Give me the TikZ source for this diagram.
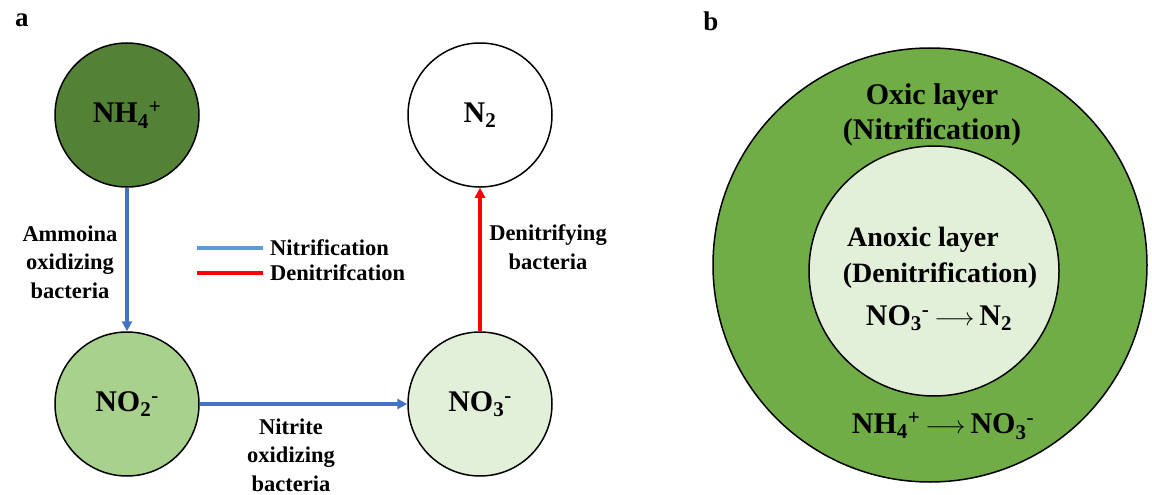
\documentclass[tikz,border=0pt]{standalone}
\usepackage{fontspec}
\setmainfont{Liberation Serif}
\usetikzlibrary{arrows.meta}
\definecolor{darkgreen}{HTML}{538135}
\definecolor{midgreen}{HTML}{A9D18E}
\definecolor{palegreen}{HTML}{E2F0D9}
\definecolor{oxic}{HTML}{70AD47}
\definecolor{arrowblue}{HTML}{4472C4}
\definecolor{legendblue}{HTML}{5B9BD5}
\definecolor{arrowred}{HTML}{FF0000}
\tikzset{
  species/.style={circle, draw=black, line width=1.5pt, minimum size=144pt, inner sep=0pt,
    font=\fontsize{30}{34}\selectfont\bfseries},
  lbl/.style={align=center, inner sep=0pt, font=\fontsize{22.5}{28.5}\selectfont\bfseries},
  blbl/.style={align=center, inner sep=0pt, font=\fontsize{30}{35}\selectfont\bfseries},
  panel/.style={inner sep=0pt, font=\fontsize{27}{30}\selectfont\bfseries},
  nitr/.style={draw=arrowblue, line width=3.4pt, -{Triangle[length=10pt,width=10pt]}},
  denitr/.style={draw=arrowred, line width=3.4pt, -{Triangle[length=10pt,width=10pt]}},
}
\begin{document}
\begin{tikzpicture}[x=1pt,y=-1pt]
\useasboundingbox (0,0) rectangle (1152,495);
% panel labels
\node[panel] (pa) at (22,20) {a};
\node[panel] (pb) at (711,21) {b};
% panel a circles
\node[species, fill=darkgreen] (nh4) at (127,115) {NH\textsubscript{4}\textsuperscript{+}};
\node[species, fill=white] (n2) at (480,115) {N\textsubscript{2}};
\node[species, fill=midgreen] (no2) at (127,404) {NO\textsubscript{2}\textsuperscript{-}};
\node[species, fill=palegreen] (no3) at (480,404) {NO\textsubscript{3}\textsuperscript{-}};
% arrows
\draw[nitr] (nh4.south) -- (no2.north);
\draw[nitr] (no2.east) -- (no3.west);
\draw[denitr] (no3.north) -- (n2.south);
% arrow labels
\node[lbl] (l1) at (70,262) {Ammoina\\oxidizing\\bacteria};
\node[lbl] (l2) at (291,455) {Nitrite\\oxidizing\\bacteria};
\node[lbl] (l3) at (548,247) {Denitrifying\\bacteria};
% legend
\coordinate (b1) at (197,248);
\coordinate (b2) at (263,248);
\coordinate (r1) at (197,273);
\coordinate (r2) at (263,273);
\draw[legendblue, line width=3.4pt] (b1) -- (b2);
\draw[arrowred, line width=3.4pt] (r1) -- (r2);
\node[lbl, anchor=west] (ln) at (270,248) {Nitrification};
\node[lbl, anchor=west] (ld) at (270,273) {Denitrifcation};
% panel b
\node[circle, draw=black, line width=1.5pt, fill=oxic, minimum size=434pt, inner sep=0pt] (outer) at (930,265) {};
\node[circle, draw=black, line width=1.5pt, fill=palegreen, minimum size=250pt, inner sep=0pt] (inner) at (934,271) {};
\node[blbl] (ox1) at (932,97) {Oxic layer};
\node[blbl] (ox2) at (932,132) {(Nitrification)};
\node[blbl, font=\fontsize{28}{33}\selectfont\bfseries] (an1) at (923,240) {Anoxic layer};
\node[blbl, font=\fontsize{28}{33}\selectfont\bfseries] (an2) at (940,276) {(Denitrification)};
\node[blbl] (eq1) at (939,318) {NO\textsubscript{3}\textsuperscript{-}\,$\longrightarrow$\,N\textsubscript{2}};
\node[blbl] (eq2) at (943,426) {NH\textsubscript{4}\textsuperscript{+}\,$\longrightarrow$\,NO\textsubscript{3}\textsuperscript{-}};
\end{tikzpicture}
\end{document}
